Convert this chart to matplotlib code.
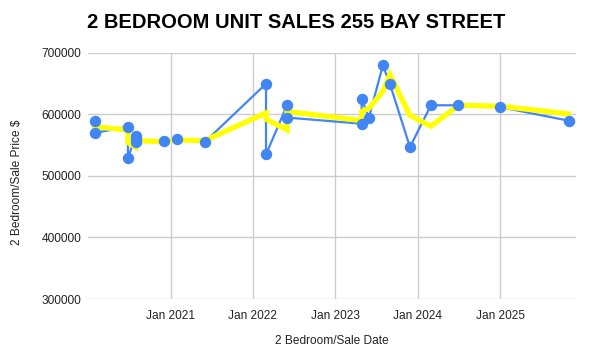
import matplotlib
matplotlib.use("Agg")
import matplotlib.pyplot as plt
import matplotlib.dates as mdates
import numpy as np
import pandas as pd

# Data
sale_dates = ["2020-01-30", "2020-01-30", "2020-06-26", "2020-06-26",
              "2020-07-30", "2020-07-30", "2020-07-30", "2020-12-01",
              "2021-01-30", "2021-06-01", "2022-02-28", "2022-02-28",
              "2022-06-01", "2022-06-01", "2023-04-28", "2023-04-28",
              "2023-05-30", "2023-07-31", "2023-08-31", "2023-11-28",
              "2024-02-29", "2024-06-30", "2025-01-01", "2025-10-31"]
sale_prices = [590000, 570000, 580000, 529000,
               565000, 560000, 555000, 557000,
               560000, 555000, 650000, 535000,
               615000, 595000, 585000, 625000,
               595000, 680000, 650000, 547000,
               615000, 615000, 612000, 590000]
trend_prices = [np.nan, 580000, 575000, 554500,
                547000, 562500, 557500, 556000,
                558500, 557500, 602500, 592500,
                575000, 605000, 590000, 605000,
                610000, 637500, 665000, 598500,
                581000, 615000, 613500, 601000]
y_ticks = [300000, 400000, 500000, 600000, 700000]
x_tick_years = [2021, 2022, 2023, 2024, 2025]

dates = pd.to_datetime(sale_dates)

plt.rcParams['font.family'] = ['Liberation Sans', 'DejaVu Sans']

fig = plt.figure(figsize=(5.93, 3.59), dpi=100)
ax = fig.add_axes([88/593, 1-299/359, (576-88)/593, (299-53)/359])

blue = "#4285F4"
ax.plot(dates, sale_prices, color=blue, lw=1.6, zorder=3)
ax.plot(dates, trend_prices, color="#FFFF00", lw=3.8, zorder=4,
        solid_joinstyle='miter')
ax.plot(dates, sale_prices, linestyle='none', marker='o', ms=7.2,
        color=blue, zorder=5)

ax.set_ylim(300000, 700000)
ax.set_yticks(y_ticks)
ax.set_yticklabels([str(v) for v in y_ticks])
ax.set_xlim(pd.Timestamp("2020-01-01"), pd.Timestamp("2025-12-03"))
ax.set_xticks([pd.Timestamp(f"{y}-01-01") for y in x_tick_years])
ax.set_xticklabels([f"Jan {y}" for y in x_tick_years])

ax.grid(True, color="#cccccc", lw=1)
ax.set_axisbelow(True)
for s in ax.spines.values():
    s.set_visible(False)
ax.tick_params(length=0, labelsize=8.6, colors="#222222")
ax.tick_params(axis='y', pad=5)
ax.tick_params(axis='x', pad=8)

fig.text(296/593, 1-22/359, "2 BEDROOM UNIT SALES 255 BAY STREET",
         ha='center', va='center', fontsize=14.5, fontweight='bold', color='black')
fig.text(332/593, 1-341/359, "2 Bedroom/Sale Date", ha='center', va='center',
         fontsize=8.6, color="#222222")
fig.text(17/593, 1-182/359, "2 Bedroom/Sale Price $", ha='center', va='center',
         rotation=90, fontsize=8.6, color="#222222")

fig.savefig("out.png", dpi=100)
